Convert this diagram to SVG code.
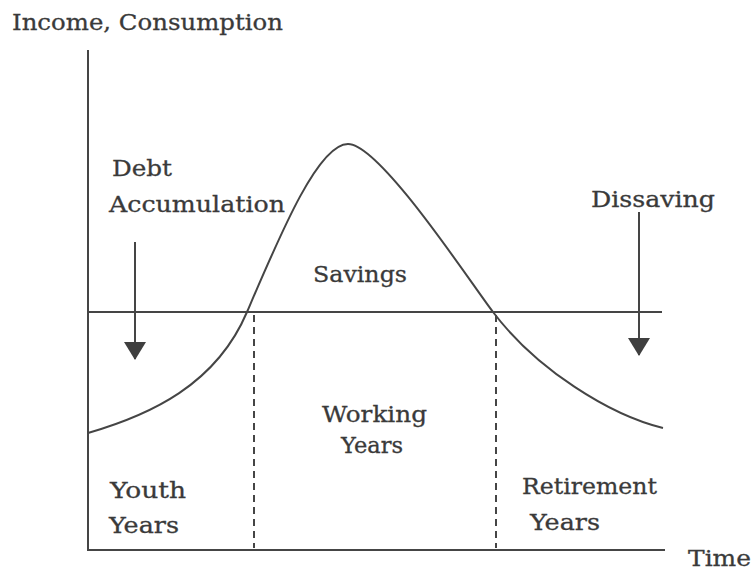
<svg xmlns="http://www.w3.org/2000/svg" width="755" height="571" viewBox="0 0 755 571">
<defs>
<style>
.t{font-family:"DejaVu Serif","Liberation Serif",serif;font-size:23px;fill:#3a3a3a;stroke:#3a3a3a;stroke-width:0.3;}
.ln{stroke:#454545;stroke-width:2;fill:none;}
.dash{stroke:#454545;stroke-width:2;fill:none;stroke-dasharray:7,5;}
</style>
<marker id="ah" markerWidth="18" markerHeight="22" refX="17" refY="11" orient="auto" markerUnits="userSpaceOnUse" viewBox="0 0 18 22">
<path d="M0,0 L18,11 L0,22 Z" fill="#3f3f3f"/>
</marker>
</defs>
<rect width="755" height="571" fill="#ffffff"/>
<g id="axes">
<line class="ln" x1="88" y1="50" x2="88" y2="550"/>
<line class="ln" x1="87" y1="550" x2="665" y2="550"/>
<line class="ln" x1="88" y1="312" x2="662" y2="312"/>
</g>
<g id="curve">
<path class="ln" d="M88,433 C150,415 216,385 247,312 C280,235 318,144 348,144 C380,144 470,282 493,312 C537,370 610,415 663,428"/>
</g>
<g id="connectors">
<line class="dash" x1="254" y1="315" x2="254" y2="548"/>
<line class="dash" x1="496" y1="315" x2="496" y2="548"/>
<line class="ln" x1="135" y1="242" x2="135" y2="359" marker-end="url(#ah)"/>
<line class="ln" x1="639" y1="212" x2="639" y2="355" marker-end="url(#ah)"/>
</g>
<g id="labels">
<text class="t" x="12" y="30" textLength="271" lengthAdjust="spacingAndGlyphs">Income, Consumption</text>
<text class="t" x="112" y="176" textLength="60" lengthAdjust="spacingAndGlyphs">Debt</text>
<text class="t" x="109" y="212" textLength="176" lengthAdjust="spacingAndGlyphs">Accumulation</text>
<text class="t" x="591" y="207" textLength="124" lengthAdjust="spacingAndGlyphs">Dissaving</text>
<text class="t" x="313" y="282" textLength="94" lengthAdjust="spacingAndGlyphs">Savings</text>
<text class="t" x="322" y="422" textLength="105" lengthAdjust="spacingAndGlyphs">Working</text>
<text class="t" x="341" y="453" textLength="62" lengthAdjust="spacingAndGlyphs">Years</text>
<text class="t" x="110" y="498" textLength="76" lengthAdjust="spacingAndGlyphs">Youth</text>
<text class="t" x="109" y="533" textLength="70" lengthAdjust="spacingAndGlyphs">Years</text>
<text class="t" x="522" y="494" textLength="135" lengthAdjust="spacingAndGlyphs">Retirement</text>
<text class="t" x="530" y="530" textLength="70" lengthAdjust="spacingAndGlyphs">Years</text>
<text class="t" x="688" y="566" textLength="63" lengthAdjust="spacingAndGlyphs">Time</text>
</g>
</svg>
